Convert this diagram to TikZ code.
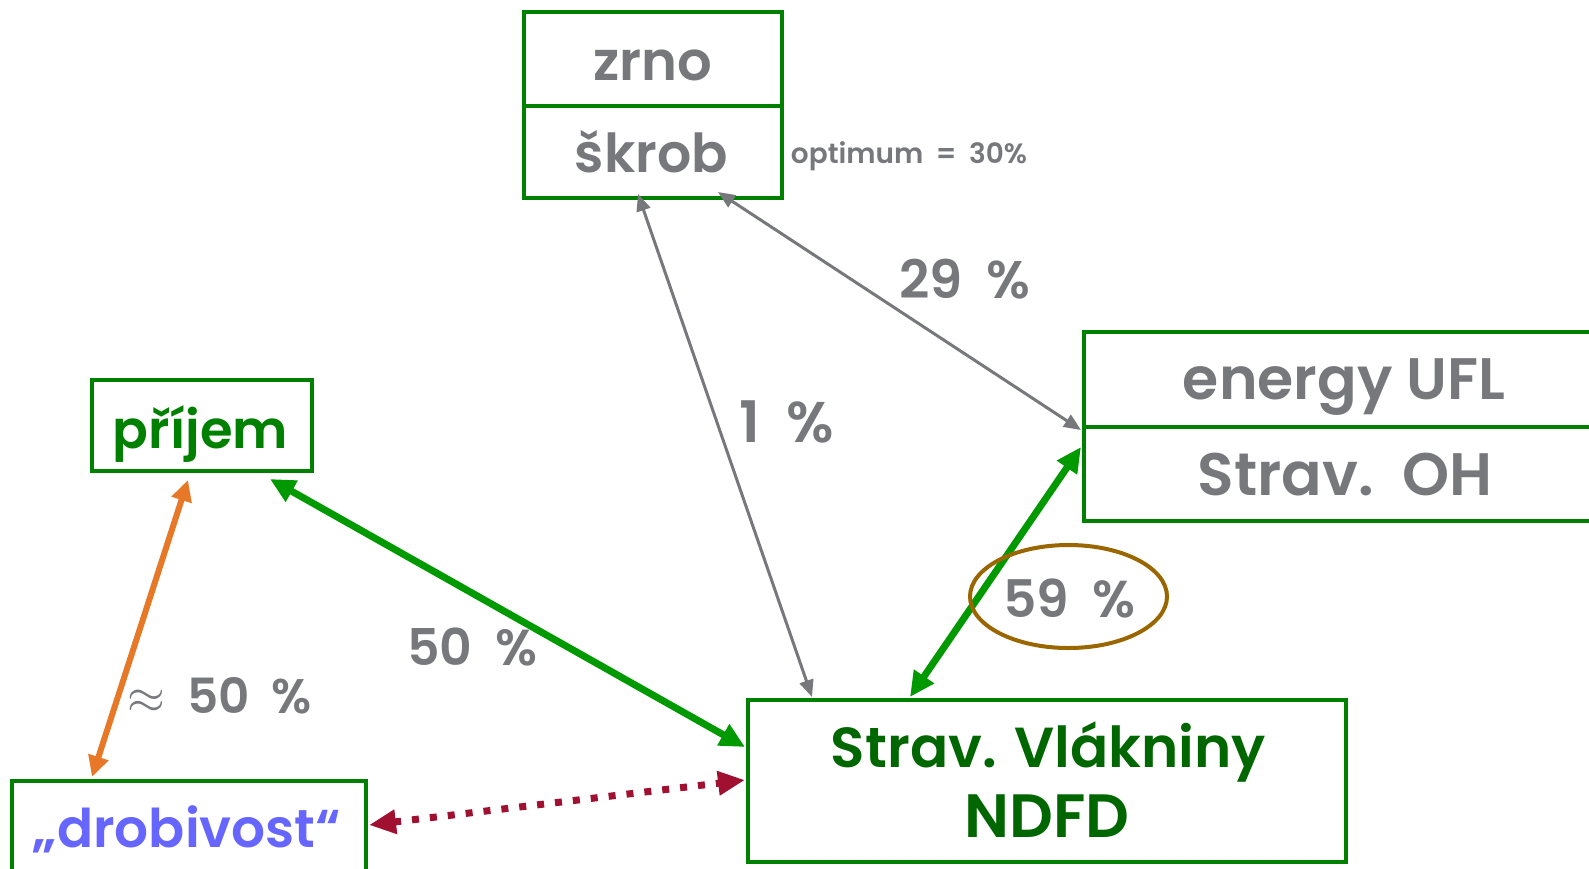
\documentclass[tikz,border=0pt]{standalone}
\usepackage{fontspec}
\setmainfont{Poppins}[BoldFont={Poppins SemiBold}]
\usetikzlibrary{arrows.meta}
\definecolor{boxgreen}{RGB}{0,128,0}
\definecolor{txtgray}{RGB}{118,120,124}
\definecolor{arrgreen}{RGB}{0,153,0}
\definecolor{darkgreen}{RGB}{0,102,0}
\definecolor{softblue}{RGB}{102,102,255}
\definecolor{arrorange}{RGB}{230,120,40}
\definecolor{crimson}{RGB}{160,16,48}
\definecolor{ringbrown}{RGB}{153,102,0}
% set a text to a given width (in pt), keeping its proportions
\newcommand\fitw[2]{\resizebox{#1pt}{!}{#2}}
% a wide word space, as in the percentage labels
\newcommand\wsp{\hspace{0.45em}}
\begin{document}
\begin{tikzpicture}[x=1pt,y=-1pt,
  box/.style={draw=boxgreen, line width=4pt, inner sep=0pt},
  lbl/.style={inner sep=0pt, anchor=base, font=\bfseries, text=txtgray},
  gar/.style={draw=txtgray, line width=3pt,
    {Triangle[length=17pt,width=14pt]}-{Triangle[length=17pt,width=14pt]}},
  gthick/.style={draw=arrgreen, line width=7pt,
    {Triangle[length=25pt,width=23pt]}-{Triangle[length=25pt,width=23pt]}},
  oarr/.style={draw=arrorange, line width=6pt,
    {Triangle[length=21pt,width=20pt]}-{Triangle[length=21pt,width=20pt]}},
  darr/.style={draw=crimson, line width=7pt, dash pattern=on 7pt off 11pt,
    {Triangle[length=27pt,width=23pt]}-{Triangle[length=27pt,width=23pt]}}]
\useasboundingbox (0,0) rectangle (1589,868);

% boxes
\node[box, minimum width=258pt, minimum height=94pt] (zr) at (652.5,59) {};
\node[box, minimum width=258pt, minimum height=92pt] (sk) at (652.5,152) {};
\node[box, minimum width=522pt, minimum height=95pt] (ufl) at (1345,379.5) {};
\node[box, minimum width=522pt, minimum height=94pt] (oh) at (1345,474) {};
\node[box, minimum width=220pt, minimum height=91pt] (pr) at (202,425.5) {};
\node[box, minimum width=354pt, minimum height=90pt] (dr) at (189,826) {};
\node[box, minimum width=598pt, minimum height=162pt] (nd) at (1047,781) {};

% texts
\node[lbl] (tzr) at (652.5,80) {\fitw{119}{zrno}};
\node[lbl] (tsk) at (651.5,172) {\fitw{153}{škrob}};
\node[lbl] (topt) at (909,163) {\fitw{236}{optimum\wsp=\wsp30\%}};
\node[lbl, text=boxgreen] (tpr) at (200.5,448) {\fitw{175}{příjem}};
\node[lbl, text=softblue] (tdr) at (187,847) {\fitw{308}{„drobivost“}};
\node[lbl] (tufl) at (1344,399) {\fitw{322}{energy UFL}};
\node[lbl] (toh) at (1345,495) {\fitw{294}{Strav.\hspace{0.15em} OH}};
\node[lbl, text=darkgreen] (tnd1) at (1048.5,767) {\fitw{435}{Strav. Vlákniny}};
\node[lbl, text=darkgreen] (tnd2) at (1047,837) {\fitw{165}{NDFD}};

% percentages
\node[lbl] (p29) at (965,298) {\fitw{131}{29\wsp\%}};
\node[lbl] (p1) at (787,442) {\fitw{94}{1\wsp\%}};
\node[lbl] (p50) at (472,665) {\fitw{130}{50\wsp\%}};
\node[lbl] (pa50) at (220,713) {\fitw{184}{$\approx$\wsp50\wsp\%}};
\node[lbl] (p59) at (1069,617) {\fitw{132}{59\wsp\%}};

% connectors
\draw[gar] ([xshift=-14.5pt,yshift=6pt]sk.south) -- ([xshift=-235pt,yshift=1pt]nd.north);
\draw[gar] ([xshift=65.5pt,yshift=8pt]sk.south) -- ([xshift=-1pt,yshift=-1pt]ufl.south west);
\draw[gthick] ([xshift=68pt,yshift=-6pt]pr.south) -- ([xshift=-1pt,yshift=34pt]nd.west);
\draw[gthick] ([xshift=-137pt,yshift=1pt]nd.north) -- ([xshift=-1pt,yshift=27pt]oh.west);
\draw[oarr] ([xshift=-14pt,yshift=-7pt]pr.south) -- ([xshift=-97pt,yshift=2pt]dr.north);
\draw[darr] ([xshift=1pt,yshift=1pt]dr.east) -- ([xshift=-1pt,yshift=1pt]nd.west);

% ring round the 59 % label
\draw[ringbrown, line width=4pt] (1068.5,596.5) ellipse [x radius=98.5pt, y radius=51.5pt];
\end{tikzpicture}
\end{document}
